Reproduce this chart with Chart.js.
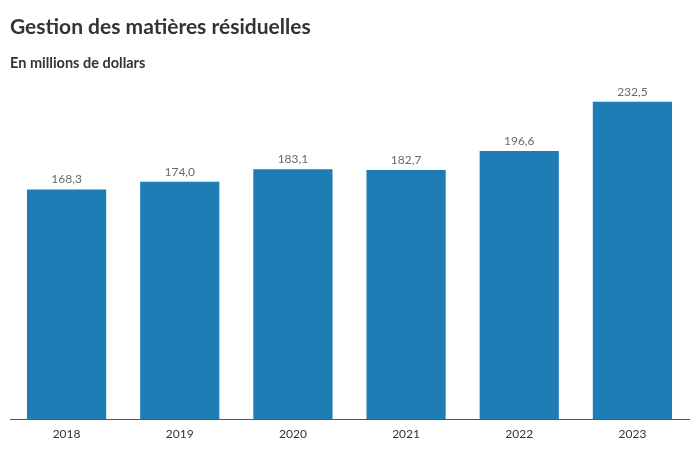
<!DOCTYPE html>
<html>
<head>
<meta charset="utf-8">
<script src="https://cdn.jsdelivr.net/npm/chart.js@4/dist/chart.umd.min.js"></script>
<style>
  html, body { margin: 0; padding: 0; background: #fff; }
  #wrap { width: 700px; height: 450px; position: relative; }
</style>
</head>
<body>
<div id="wrap"><canvas id="dechetsChart"></canvas></div>
<script>
const years = ['2018', '2019', '2020', '2021', '2022', '2023'];
const spending = [168.3, 174.0, 183.1, 182.7, 196.6, 232.5];

// value written above each bar, French decimal comma
const barLabels = {
    id: 'barLabels',
    afterDatasetsDraw(chart) {
        const ctx = chart.ctx;
        const meta = chart.getDatasetMeta(0);
        ctx.save();
        ctx.font = '12px Lato';
        ctx.fillStyle = '#6b6b6b';
        ctx.textAlign = 'center';
        ctx.textBaseline = 'bottom';
        meta.data.forEach(function (bar, i) {
            ctx.fillText(spending[i].toFixed(1).replace('.', ','), bar.x, bar.y - 4);
        });
        ctx.restore();
    }
};

document.addEventListener('DOMContentLoaded', function () {
    const ctx = document.getElementById('dechetsChart').getContext('2d');

    new Chart(ctx, {
        type: 'bar',
        data: {
            labels: years,
            datasets: [{
                data: spending,
                backgroundColor: '#1f7db6',
                barPercentage: 0.7,
                categoryPercentage: 1.0
            }]
        },
        options: {
            responsive: true,
            maintainAspectRatio: false,
            animation: false,
            layout: {
                padding: { left: 10, right: 11, top: 15, bottom: 2 }
            },
            plugins: {
                legend: { display: false },
                tooltip: { enabled: false },
                title: {
                    display: true,
                    text: 'Gestion des matières résiduelles',
                    align: 'start',
                    color: '#333333',
                    font: { family: 'Lato', size: 21, weight: 'bold' },
                    padding: { top: 0, bottom: 14 }
                },
                subtitle: {
                    display: true,
                    text: 'En millions de dollars',
                    align: 'start',
                    color: '#333333',
                    font: { family: 'Lato', size: 14.5, weight: 'bold' },
                    padding: { top: 0, bottom: 20 }
                }
            },
            scales: {
                x: {
                    grid: { display: false, drawTicks: false },
                    border: { display: true, color: '#555555', width: 1 },
                    ticks: {
                        color: '#333333',
                        padding: 7,
                        font: { family: 'Lato', size: 12 }
                    }
                },
                y: {
                    display: false,
                    min: 0,
                    max: 240
                }
            }
        },
        plugins: [barLabels]
    });
});
</script>
</body>
</html>
